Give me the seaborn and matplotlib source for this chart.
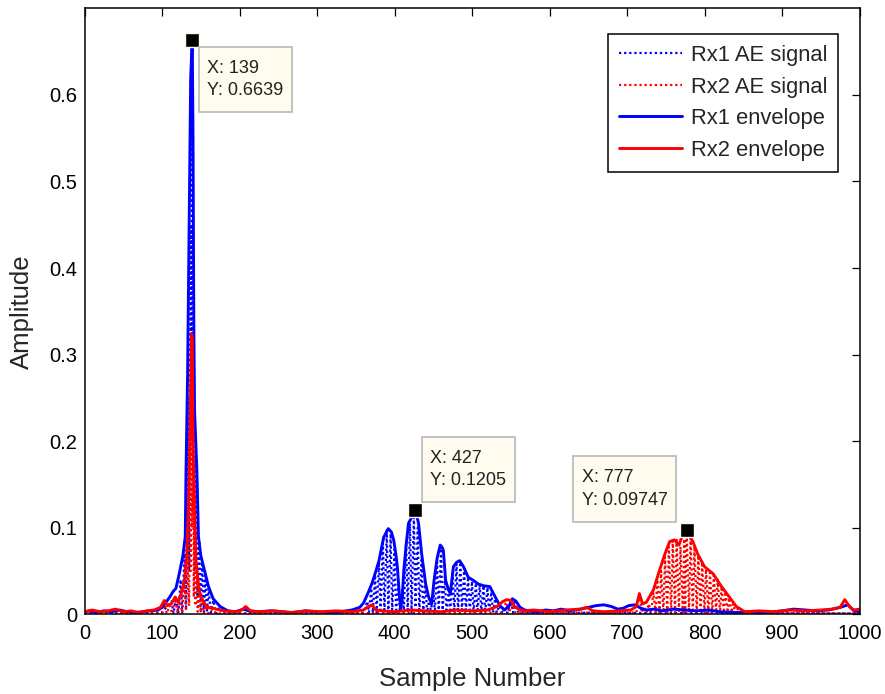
import matplotlib
matplotlib.use("Agg")
import matplotlib.pyplot as plt
from matplotlib.path import Path
import seaborn as sns
import pandas as pd

# ---------------- data ----------------
rx1_env_x = [0, 8, 15, 25, 35, 45, 55, 65, 75, 85, 95, 100, 106, 110, 114, 118, 123, 127, 130,
             131, 133, 135, 137, 139, 140, 141, 142, 145, 147, 150, 155, 160, 166, 175, 185, 195,
             205, 212, 225, 240, 255, 270, 285, 300, 315, 330, 345, 355, 360, 366, 371, 376, 380,
             386, 392, 396, 399, 402, 404, 406, 408, 410, 412, 415, 418, 422, 427, 431, 435, 438,
             440, 444, 448, 451, 455, 459, 461, 463, 466, 469, 472, 476, 480, 484, 489, 495, 502,
             508, 515, 523, 530, 536, 542, 548, 552, 557, 562, 568, 575, 585, 595, 605, 615, 625,
             640, 650, 660, 670, 680, 688, 695, 702, 710, 718, 725, 735, 745, 760, 775, 790, 805,
             820, 840, 860, 880, 900, 915, 930, 945, 960, 975, 985, 993, 1000]
rx1_env_y = [0.003, 0.004, 0.002, 0.004, 0.003, 0.005, 0.003, 0.002, 0.003, 0.004, 0.005, 0.008,
             0.015, 0.020, 0.026, 0.030, 0.050, 0.068, 0.090, 0.166, 0.2765, 0.45, 0.62, 0.6639,
             0.55, 0.34, 0.234, 0.166, 0.090, 0.068, 0.050, 0.032, 0.018, 0.009, 0.004, 0.003,
             0.006, 0.004, 0.003, 0.004, 0.003, 0.002, 0.004, 0.003, 0.002, 0.003, 0.005, 0.008,
             0.013, 0.025, 0.036, 0.050, 0.062, 0.089, 0.099, 0.095, 0.0855, 0.068, 0.051, 0.025,
             0.006, 0.020, 0.051, 0.080, 0.105, 0.112, 0.1205, 0.105, 0.070, 0.050, 0.036, 0.020,
             0.012, 0.039, 0.065, 0.080, 0.078, 0.074, 0.039, 0.030, 0.024, 0.055, 0.060, 0.062,
             0.055, 0.043, 0.039, 0.035, 0.033, 0.032, 0.020, 0.010, 0.005, 0.010, 0.018, 0.015,
             0.008, 0.005, 0.004, 0.003, 0.005, 0.004, 0.006, 0.004, 0.006, 0.008, 0.010, 0.011,
             0.009, 0.006, 0.007, 0.010, 0.011, 0.007, 0.005, 0.006, 0.004, 0.006, 0.005, 0.004,
             0.005, 0.003, 0.002, 0.003, 0.002, 0.004, 0.006, 0.005, 0.004, 0.005, 0.008, 0.011,
             0.004, 0.003]

rx2_env_x = [0, 10, 20, 30, 40, 50, 60, 70, 80, 90, 98, 103, 107, 112, 117, 121, 125, 129, 132,
             134, 136, 138, 139, 140, 142, 144, 147, 150, 155, 160, 170, 180, 195, 203, 208, 214,
             225, 245, 265, 285, 305, 325, 345, 360, 366, 371, 376, 385, 400, 420, 440, 460, 480,
             500, 520, 532, 540, 545, 550, 556, 565, 580, 600, 620, 640, 648, 656, 670, 690, 705,
             712, 716, 720, 725, 734, 742, 749, 755, 761, 767, 771, 777, 781, 785, 791, 800, 811,
             822, 832, 841, 852, 870, 890, 910, 930, 950, 965, 975, 981, 987, 992, 1000]
rx2_env_y = [0.003, 0.005, 0.003, 0.004, 0.006, 0.003, 0.004, 0.002, 0.004, 0.005, 0.008, 0.016,
             0.010, 0.012, 0.020, 0.014, 0.025, 0.040, 0.070, 0.120, 0.200, 0.324, 0.320, 0.200,
             0.120, 0.060, 0.035, 0.020, 0.012, 0.008, 0.006, 0.004, 0.003, 0.005, 0.009, 0.004,
             0.003, 0.004, 0.002, 0.004, 0.003, 0.004, 0.003, 0.005, 0.009, 0.011, 0.005, 0.004,
             0.003, 0.005, 0.004, 0.003, 0.005, 0.004, 0.005, 0.009, 0.015, 0.017, 0.016, 0.008,
             0.004, 0.005, 0.003, 0.005, 0.006, 0.008, 0.004, 0.003, 0.004, 0.005, 0.009, 0.024,
             0.012, 0.014, 0.028, 0.051, 0.070, 0.084, 0.086, 0.080, 0.090, 0.09747, 0.090, 0.084,
             0.070, 0.055, 0.047, 0.032, 0.020, 0.009, 0.003, 0.004, 0.003, 0.005, 0.004, 0.005,
             0.006, 0.008, 0.017, 0.009, 0.005, 0.006]

rx1_ae_x = [0, 100, 112, 115, 118, 121, 124, 126, 129, 131, 133, 135, 137, 138, 139, 140, 141,
            142, 144, 146, 148, 150, 152, 154, 156, 158, 160, 163, 166, 170, 174, 178,
            360, 365, 367, 370, 372, 375, 377, 380, 382, 385, 387, 390, 392, 395, 397, 400, 402,
            405, 407, 410, 412, 415, 417, 420, 422, 425, 427, 430, 432, 435, 437, 440, 442, 445,
            447, 450, 452, 455, 457, 460, 462, 465, 467, 470, 472, 475, 477, 480, 482, 485, 487,
            490, 492, 495, 497, 500, 502, 505, 507, 510, 512, 515, 517, 520, 522, 525, 527, 530,
            532, 535, 540, 546, 550, 553, 555, 560, 1000]
rx1_ae_y = [0.001, 0.002, 0.015, 0.001, 0.020, 0.001, 0.040, 0.002, 0.070, 0.005, 0.250, 0.050,
            0.450, 0.300, 0.6639, 0.200, 0.300, 0.050, 0.180, 0.020, 0.085, 0.005, 0.060, 0.003,
            0.045, 0.002, 0.030, 0.002, 0.016, 0.001, 0.008, 0.001,
            0.002, 0.015, 0.002, 0.030, 0.002, 0.045, 0.002, 0.060, 0.002, 0.085, 0.002, 0.097,
            0.002, 0.093, 0.002, 0.075, 0.002, 0.035, 0.002, 0.030, 0.002, 0.085, 0.002, 0.105,
            0.002, 0.115, 0.002, 0.100, 0.002, 0.065, 0.002, 0.035, 0.002, 0.018, 0.002, 0.030,
            0.002, 0.060, 0.002, 0.076, 0.002, 0.045, 0.002, 0.028, 0.002, 0.050, 0.002, 0.058,
            0.002, 0.060, 0.002, 0.053, 0.002, 0.043, 0.002, 0.038, 0.002, 0.036, 0.002, 0.034,
            0.002, 0.033, 0.002, 0.031, 0.002, 0.026, 0.002, 0.018, 0.002, 0.010, 0.002, 0.002,
            0.016, 0.002, 0.014, 0.002, 0.001]

rx2_ae_x = [0, 100, 103, 106, 110, 113, 117, 120, 123, 126, 129, 131, 133, 135, 136, 137, 138,
            139, 140, 141, 142, 143, 145, 146, 148, 150, 152, 154, 157, 160, 165, 170,
            538, 544, 548, 552, 556, 712, 716, 719, 722, 725, 728, 731, 734, 737, 739, 742, 744,
            747, 749, 752, 754, 757, 759, 762, 764, 767, 769, 772, 774, 775, 777, 780, 782, 785,
            787, 790, 792, 795, 797, 800, 802, 805, 807, 810, 812, 815, 817, 820, 822, 825, 827,
            830, 832, 835, 837, 840, 842, 845, 1000]
rx2_ae_y = [0.001, 0.002, 0.014, 0.001, 0.010, 0.001, 0.018, 0.002, 0.015, 0.002, 0.035, 0.004,
            0.065, 0.010, 0.180, 0.050, 0.300, 0.100, 0.190, 0.020, 0.110, 0.010, 0.055, 0.003,
            0.030, 0.002, 0.018, 0.001, 0.010, 0.001, 0.006, 0.001,
            0.002, 0.014, 0.002, 0.015, 0.002, 0.002, 0.022, 0.002, 0.008, 0.002, 0.012, 0.002,
            0.025, 0.002, 0.040, 0.002, 0.050, 0.002, 0.066, 0.002, 0.078, 0.002, 0.085, 0.002,
            0.086, 0.002, 0.078, 0.002, 0.090, 0.002, 0.09747, 0.002, 0.088, 0.002, 0.078, 0.002,
            0.068, 0.002, 0.060, 0.002, 0.052, 0.002, 0.048, 0.002, 0.045, 0.002, 0.040, 0.002,
            0.032, 0.002, 0.026, 0.002, 0.019, 0.002, 0.012, 0.002, 0.007, 0.002, 0.001]

series_labels = ["Rx1 AE signal", "Rx2 AE signal", "Rx1 envelope", "Rx2 envelope"]
tip_x = [139, 427, 777]
tip_y = [0.6639, 0.1205, 0.09747]
tip_text = ["X: 139\nY: 0.6639", "X: 427\nY: 0.1205", "X: 777\nY: 0.09747"]
xticks = [0, 100, 200, 300, 400, 500, 600, 700, 800, 900, 1000]
yticks = [0, 0.1, 0.2, 0.3, 0.4, 0.5, 0.6]
ytick_labels = ["0", "0.1", "0.2", "0.3", "0.4", "0.5", "0.6"]

# ---------------- plotting ----------------
sns.set_style("white")
plt.rcParams["font.family"] = ["Liberation Sans", "DejaVu Sans"]

fig = plt.figure(figsize=(8.85, 6.94), dpi=100)
ax = fig.add_axes([0.0955, 0.1148, 0.8757, 0.8732])

dot = (0, (1, 1.3))
frames = [
    (rx1_ae_x, rx1_ae_y, "blue", dot, 1.6, series_labels[0]),
    (rx2_ae_x, rx2_ae_y, "red", dot, 1.6, series_labels[1]),
    (rx1_env_x, rx1_env_y, "blue", "-", 2.1, series_labels[2]),
    (rx2_env_x, rx2_env_y, "red", "-", 2.1, series_labels[3]),
]
for xs, ys, col, ls, lw, lab in frames:
    df = pd.DataFrame({"Sample": xs, "Amp": ys})
    sns.lineplot(data=df, x="Sample", y="Amp", color=col, linestyle=ls, linewidth=lw,
                 label=lab, estimator=None, sort=False, ax=ax)

ax.set_xlim(0, 1000)
ax.set_ylim(0, 0.7)
ax.set_xticks(xticks)
ax.set_xticklabels([str(t) for t in xticks])
ax.set_yticks(yticks)
ax.set_yticklabels(ytick_labels)
ax.tick_params(direction="in", top=True, right=True, length=5.5, width=0.9,
               labelsize=14.5, colors="black")
ax.tick_params(axis="x", pad=7)
ax.tick_params(axis="y", pad=5.5)
for s in ax.spines.values():
    s.set_color("black")
    s.set_linewidth(1.1)
ax.set_xlabel("Sample Number", fontsize=18.5, labelpad=17)
ax.set_ylabel("Amplitude", fontsize=18.5, labelpad=11)


def tip_box(x0, y0, width, height, mutation_size):
    # rectangular box with a larger vertical than horizontal padding (MATLAB datatip look)
    px = 0.47 * mutation_size
    py = 0.72 * mutation_size
    x1, y1 = x0 - px, y0 - py
    x2, y2 = x0 + width + px, y0 + height + py
    return Path([(x1, y1), (x2, y1), (x2, y2), (x1, y2), (x1, y1)],
                [Path.MOVETO, Path.LINETO, Path.LINETO, Path.LINETO, Path.CLOSEPOLY])


# data tips
offsets = [((15, -20), "left", "top"), ((15, 21), "left", "bottom"), ((-19, 21), "right", "bottom")]
for (xv, yv, txt, (off, ha, va)) in zip(tip_x, tip_y, tip_text, offsets):
    ax.plot([xv], [yv], marker="s", markersize=10, color="black", markeredgecolor="#fffbef",
            markeredgewidth=1.0, zorder=6)
    ax.annotate(txt, xy=(xv, yv), xytext=off, textcoords="offset pixels", ha=ha, va=va,
                multialignment="left", fontsize=13, color="#222222", linespacing=1.42, zorder=7,
                bbox=dict(boxstyle=tip_box, facecolor="#fffbef", edgecolor="#b8b8b8",
                          linewidth=1.2))

leg = ax.legend(loc="upper right", bbox_to_anchor=(0.9723, 0.9576), borderaxespad=0,
                fontsize=15.8, frameon=True, fancybox=False, framealpha=1, edgecolor="black",
                handlelength=2.85, handletextpad=0.4, labelspacing=0.48, borderpad=0.5)
leg.get_frame().set_linewidth(1.1)

fig.savefig("out.png", dpi=100)
